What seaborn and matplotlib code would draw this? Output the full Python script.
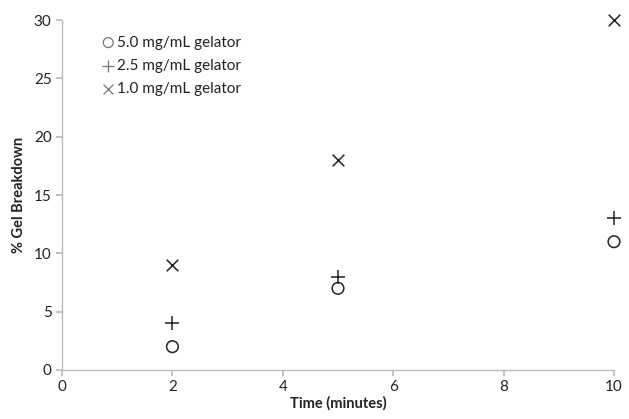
import matplotlib
matplotlib.use("Agg")
import matplotlib.pyplot as plt
import seaborn as sns
import pandas as pd

time_min = [2, 5, 10]
s50 = [2, 7, 11]
s25 = [4, 8, 13]
s10 = [9, 18, 30]
labels = ["5.0 mg/mL gelator", "2.5 mg/mL gelator", "1.0 mg/mL gelator"]
x_ticks = [0, 2, 4, 6, 8, 10]
y_ticks = [0, 5, 10, 15, 20, 25, 30]

sns.set_theme(style="white")
plt.rcParams['font.family'] = ['Lato', 'DejaVu Sans']

df = pd.DataFrame({
    "Time": time_min * 3,
    "Value": s50 + s25 + s10,
    "Series": [labels[0]] * 3 + [labels[1]] * 3 + [labels[2]] * 3,
})

fig = plt.figure(figsize=(6.29, 4.19), dpi=100)
ax = fig.add_axes([0.0986, 0.117, 0.8775, 0.835])

sty = {labels[0]: dict(marker="o", facecolors="none", edgecolors="#222222", linewidths=1.1, s=70),
       labels[1]: dict(marker="+", color="#222222", linewidths=1.1, s=90),
       labels[2]: dict(marker="x", color="#222222", linewidths=1.1, s=70)}
for lab in labels:
    sub = df[df["Series"] == lab]
    sns.scatterplot(data=sub, x="Time", y="Value", ax=ax, label=lab, clip_on=False, zorder=3, **sty[lab])

ax.set_xlim(0, 10)
ax.set_ylim(0, 30)
ax.set_xticks(x_ticks)
ax.set_yticks(y_ticks)
for sp in ["top", "right"]:
    ax.spines[sp].set_visible(False)
for sp in ["left", "bottom"]:
    ax.spines[sp].set_color("#bbbbbb")
    ax.spines[sp].set_linewidth(1.0)
ax.tick_params(axis="both", which="both", length=4, color="#bbbbbb", labelsize=11, labelcolor="#222222",
               bottom=True, left=True, direction="out")
ax.set_xlabel("Time (minutes)", fontsize=10.5, fontweight="bold", color="#222222", labelpad=1)
ax.set_ylabel("% Gel Breakdown", fontsize=10.5, fontweight="bold", color="#222222", labelpad=6)

leg = ax.legend(loc="upper left", bbox_to_anchor=(0.045, 0.995), frameon=False, fontsize=11,
                handletextpad=0.05, handlelength=1.0, labelspacing=0.6, markerscale=0.85)
for t in leg.get_texts():
    t.set_color("#222222")
for h in leg.legend_handles:
    h.set_edgecolor("#777777")
    h.set_linewidth(0.9)

fig.savefig("out.png", dpi=100)
